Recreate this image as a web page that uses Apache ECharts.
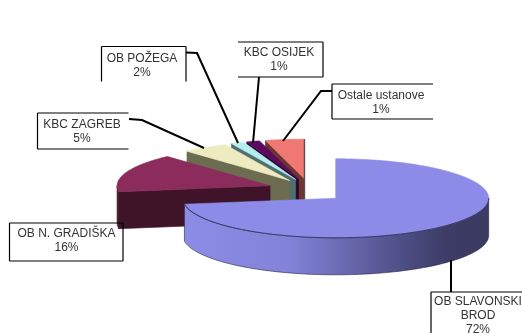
<!DOCTYPE html>
<html><head><meta charset="utf-8">
<style>html,body{margin:0;padding:0;background:#fff}#c{width:522px;height:333px}</style>
<script src="https://cdn.jsdelivr.net/npm/echarts@6/dist/echarts.min.js"></script>
</head><body><div id="c"></div>
<script>
// Data
const names = ['OB SLAVONSKI\nBROD', 'OB N. GRADIŠKA', 'KBC ZAGREB', 'OB POŽEGA', 'KBC OSIJEK', 'Ostale ustanove'];
const percents = [72, 16, 5, 2, 1, 1];            // printed labels
const drawnShares = [72.6, 15.7, 4.8, 1.4, 1.4, 4.1]; // slice sweep
const explodeFactors = [.23, .27, .23, .23, .23, .23];

// Styles
const topColors  = ['#8C8CE8', '#8C2C5C', '#EDEBBF', '#B4EEEE', '#5C0A60', '#F07872'];
const sideColors = ['#3C3C66', '#401428', '#6C6C50', '#507070', '#2E0532', '#6E3530'];
const rimGradient = {type:'linear',x:0,y:0,x2:1,y2:0,colorStops:[
  {offset:0,color:'#8C8CE6'},{offset:.35,color:'#8282D8'},{offset:.7,color:'#50508A'},
  {offset:.86,color:'#3C3C66'},{offset:1,color:'#3A3A62'}]};

// Layout
const pie = {cx:309, cy:190.5, rx:153, ry:39.5, depth:37, explodeRy:52};
const boxes = [
 {x:431,y:292,w:91,h:60,sides:'ltb',tx:478,ty:295,line:[[451,260],[451,292]]},
 {x:9.5,y:223,w:113.5,h:38,sides:'ltrb',tx:66.5,ty:227},
 {x:37.5,y:113,w:91,h:36,sides:'ltb',tx:82,ty:118,line:[[129,119],[142,120],[204,148]]},
 {x:101.5,y:46.5,w:84.5,h:35,sides:'ltr',tx:142,ty:51.5,line:[[186,52.5],[197,53],[238,143]]},
 {x:238,y:42,w:85,h:35,sides:'trb',tx:279,ty:46,line:[[259,77],[253,143]]},
 {x:332,y:84,w:101,h:35,sides:'ltb',tx:381,ty:89,line:[[332,91],[321,91],[283,141]]}
];

// Geometry
const total = drawnShares.reduce((a,b)=>a+b,0);
let acc = 0;
const slices = drawnShares.map((s,i)=>{
  const a0 = acc/total*2*Math.PI; acc += s;
  const a1 = acc/total*2*Math.PI;
  const m = (a0+a1)/2, e = explodeFactors[i];
  return {i,a0,a1,ax:pie.cx+e*pie.rx*Math.sin(m),ay:pie.cy-e*pie.explodeRy*Math.cos(m)};
});
const rimPoint = (s,t,d)=>[s.ax+pie.rx*Math.sin(t), s.ay-pie.ry*Math.cos(t)+(d||0)];
function arc(s,a,b,d){const n=Math.max(2,Math.ceil(Math.abs(b-a)/.02)),o=[];
  for(let k=0;k<=n;k++)o.push(rimPoint(s,a+(b-a)*k/n,d));return o;}
const poly=(points,fill,stroke)=>({type:'polygon',shape:{points},style:{fill,stroke:stroke||fill,lineWidth:.6}});

function renderSlice(params){
  const s = slices[slices.length-1-params.dataIndex];
  const kids = [], D = pie.depth, A=[s.ax,s.ay], Ad=[s.ax,s.ay+D];
  const side = sideColors[s.i];
  const addFace=t=>{const p=rimPoint(s,t);const q=rimPoint(s,t,D);kids.push(poly([A,p,q,Ad],side));};
  if(Math.sin(s.a0)<-1e-6) addFace(s.a0);
  if(Math.sin(s.a1)>1e-6) addFace(s.a1);
  // front rim: part of the arc on the lower half of the ellipse
  const lo=Math.max(s.a0,Math.PI/2), hi=Math.min(s.a1,Math.PI*1.5);
  if(hi>lo){
    const top=arc(s,lo,hi,0), bot=arc(s,hi,lo,D);
    kids.push(poly(top.concat(bot), s.i===0?rimGradient:side, s.i===0?'#23233c':side));
  }
  kids.push(poly([A].concat(arc(s,s.a0,s.a1,0)),topColors[s.i]));
  if(s.i===0) kids.push({type:'polyline',shape:{points:arc(s,lo,hi,0)},style:{fill:null,stroke:'#23233c',lineWidth:.8}});
  if(s.i===slices.length-1){const p=rimPoint(s,s.a1);
    kids.push({type:'line',shape:{x1:p[0],y1:p[1],x2:p[0],y2:Ad[1]},style:{stroke:'#55504E',lineWidth:1.4}});}
  return {type:'group',children:kids};
}

function renderBox(params){
  const i=params.dataIndex,b=boxes[i],kids=[];
  const k={stroke:'#000',lineWidth:1.2};
  if(b.line) kids.push({type:'polyline',shape:{points:b.line},style:{fill:null,stroke:'#000',lineWidth:2}});
  const L=b.x,T=b.y,R=b.x+b.w,B=b.y+b.h;
  const seg={l:[L,T,L,B],t:[L,T,R,T],r:[R,T,R,B],b:[L,B,R,B]};
  for(const c of b.sides){const g=seg[c];kids.push({type:'line',shape:{x1:g[0],y1:g[1],x2:g[2],y2:g[3]},style:k});}
  kids.push({type:'text',style:{x:b.tx,y:b.ty,text:names[i]+'\n'+percents[i]+'%',align:'center',verticalAlign:'top',
    fill:'#333',font:'12px "Liberation Sans"',lineHeight:14}});
  return {type:'group',children:kids};
}

const chart = echarts.init(document.getElementById('c'),null,{renderer:'canvas'});
chart.setOption({
  animation:false,
  backgroundColor:'#fff',
  series:[
    {type:'custom',coordinateSystem:'none',silent:true,z:2,renderItem:renderSlice,
     data:slices.slice().reverse().map(s=>drawnShares[s.i])},
    {type:'custom',coordinateSystem:'none',silent:true,z:3,renderItem:renderBox,data:percents}
  ]
});
</script></body></html>
